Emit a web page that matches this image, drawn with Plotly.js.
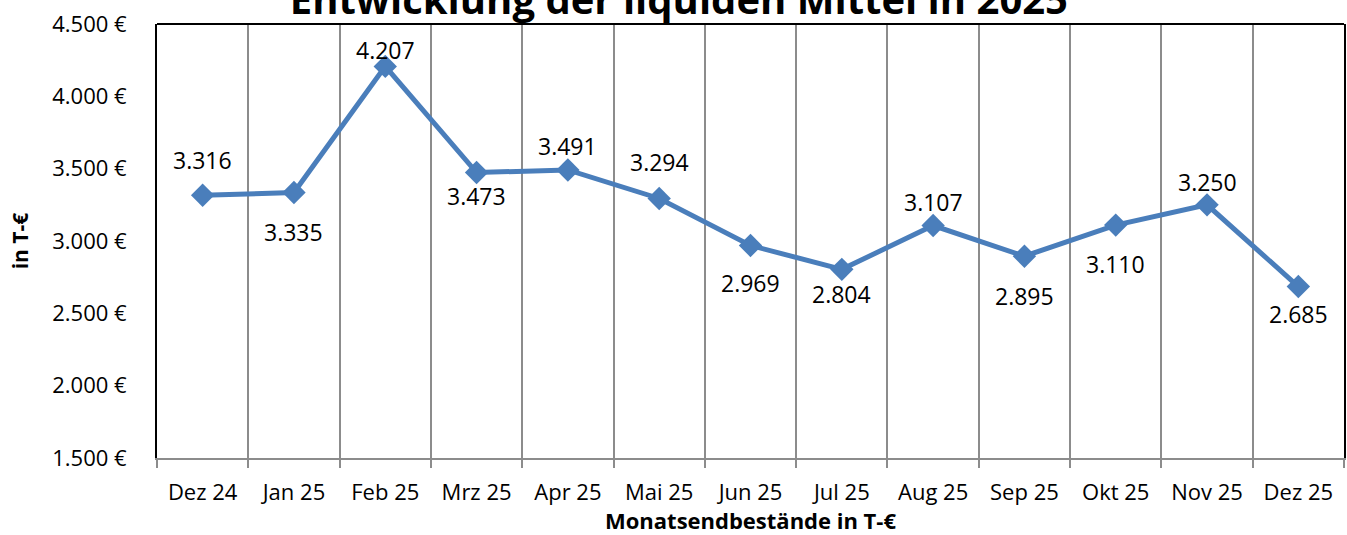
<!DOCTYPE html>
<html>
<head>
<meta charset="utf-8">
<script src="https://cdn.plot.ly/plotly-3.0.1.min.js"></script>
<style>html,body{margin:0;padding:0;background:#fff;}#chart{width:1347px;height:535px;}</style>
</head>
<body>
<div id="chart"></div>
<script>
const months = ["Dez 24","Jan 25","Feb 25","Mrz 25","Apr 25","Mai 25","Jun 25","Jul 25","Aug 25","Sep 25","Okt 25","Nov 25","Dez 25"];
const balances = [3316, 3335, 4207, 3473, 3491, 3294, 2969, 2804, 3107, 2895, 3110, 3250, 2685];
const labelSide = ["above","below","above","below","above","above","below","below","above","below","below","above","below"];
const labelGap  = [35, 39, 16, 23, 24, 36, 38, 25, 24, 40, 39, 23, 27];

const FONT = "Open Sans, Lato, sans-serif";
const fmt = v => v.toLocaleString("de-DE");

const trace = {
  x: months, y: balances, type: "scatter", mode: "lines+markers",
  line: {color: "#4a7ebb", width: 5},
  marker: {symbol: "diamond", size: 18, color: "#4a7ebb"},
  hoverinfo: "x+y"
};

const annotations = months.map((m, i) => ({
  x: m, y: balances[i], xref: "x", yref: "y",
  text: fmt(balances[i]), showarrow: false,
  yshift: labelSide[i] === "above" ? labelGap[i] : -labelGap[i],
  font: {family: FONT, size: 23, color: "#000"}
}));

const layout = {
  width: 1347, height: 535,
  margin: {l: 157, r: 3, t: 24, b: 77},
  paper_bgcolor: "#fff", plot_bgcolor: "#fff",
  separators: ",.",
  showlegend: false,
  title: {
    text: "<b>Entwicklung der liquiden Mittel in 2025</b>",
    font: {family: FONT, size: 40, color: "#000"},
    x: 0.504, xanchor: "center", xref: "container",
    y: 1.0, yanchor: "middle", yref: "container"
  },
  xaxis: {
    type: "category",
    range: [-0.5, 12.5],
    tickson: "boundaries",
    showgrid: true, gridcolor: "#8c8c8c", gridwidth: 2,
    showline: true, linecolor: "#8c8c8c", linewidth: 2,
    ticks: "outside", ticklen: 8, tickcolor: "#8c8c8c", tickwidth: 2,
    tickfont: {family: FONT, size: 22, color: "#000"},
    ticklabelstandoff: 14,
    title: {text: "<b>Monatsendbestände in T-€</b>", font: {family: FONT, size: 22, color: "#000"}, standoff: 4},
    zeroline: false, fixedrange: true
  },
  yaxis: {
    range: [1500, 4500], dtick: 500, tick0: 1500,
    tickformat: ",d", ticksuffix: " €",
    showgrid: false, zeroline: false,
    showline: true, linecolor: "#000", linewidth: 2, mirror: true,
    ticks: "",
    tickfont: {family: FONT, size: 22, color: "#000"},
    ticklabelstandoff: 24,
    title: {text: "<b>in T-€</b>", font: {family: FONT, size: 21, color: "#000"}, standoff: 18},
    fixedrange: true
  },
  shapes: [{type: "line", xref: "paper", yref: "paper", x0: 0, x1: 1, y0: 1, y1: 1, line: {color: "#000", width: 2}}],
  annotations: annotations
};

Plotly.newPlot("chart", [trace], layout, {displayModeBar: false, staticPlot: true});
</script>
</body>
</html>
